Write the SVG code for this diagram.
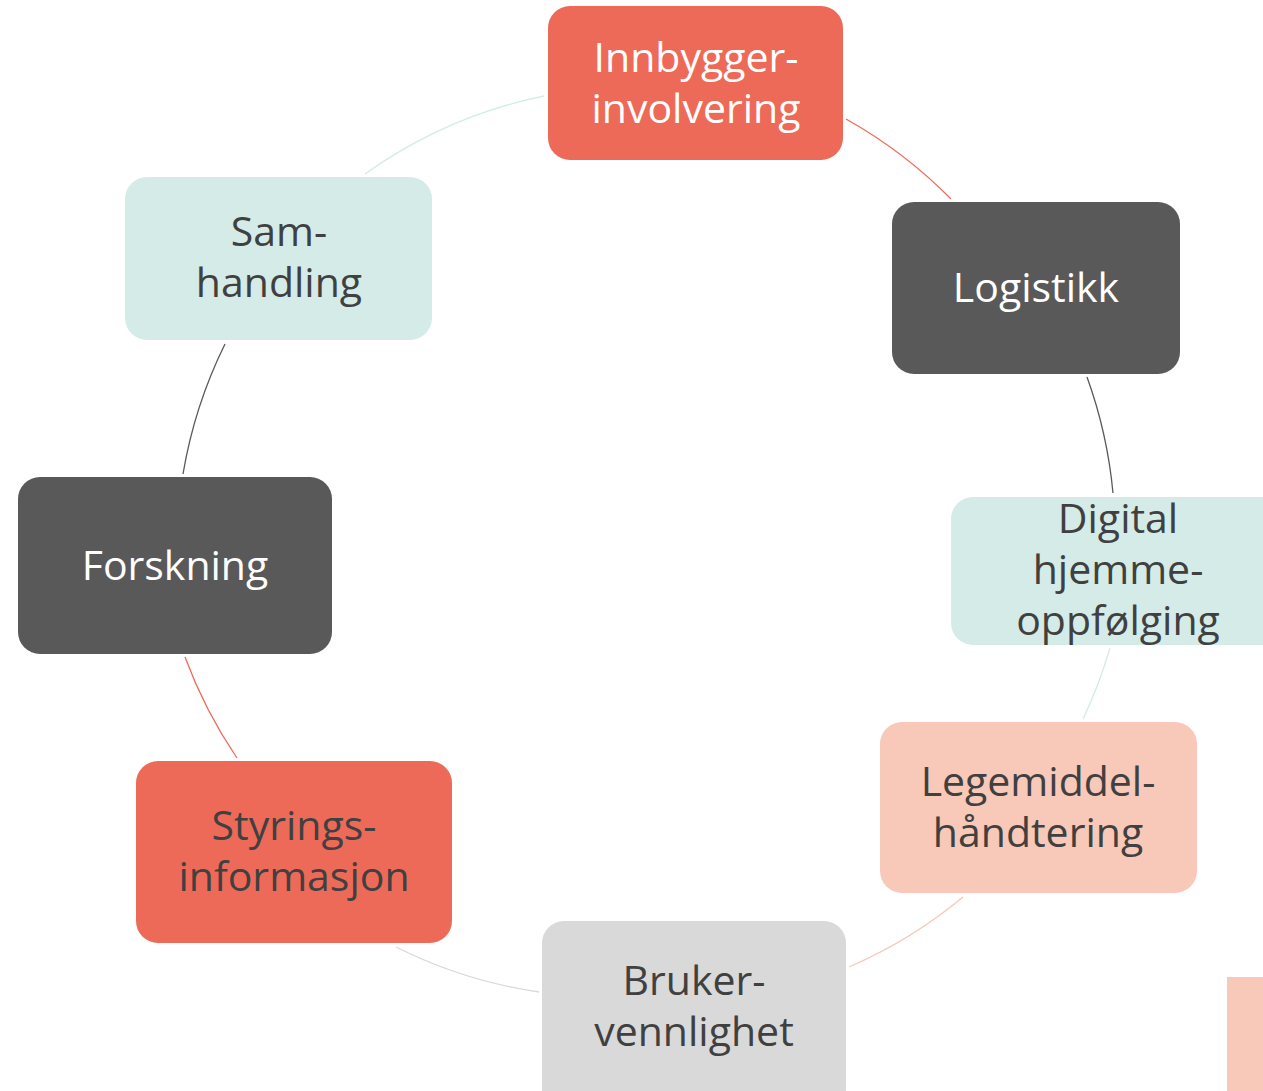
<svg xmlns="http://www.w3.org/2000/svg" width="1263" height="1091" viewBox="0 0 1263 1091">
  <style>
    .lbl { font-family: "Open Sans", "Noto Sans", "Liberation Sans", sans-serif; font-size: 41px; text-anchor: middle; }
    .light { fill: #ffffff; }
    .dark { fill: #404040; }
    .c-red { fill: #EE6A58; }
    .c-gray { fill: #595959; }
    .c-teal { fill: #D5EBE8; }
    .c-peach { fill: #F8C8B8; }
    .c-silver { fill: #D9D9D9; }
    .arc { fill: none; stroke-width: 1.3; }
  </style>

  <rect width="1263" height="1091" fill="#ffffff"/>

  <!-- cycle connectors, each tinted like the box it leaves -->
  <g id="connectors">
    <path class="arc" stroke="#EE6A58" d="M846,119 A470,470 0 0 1 951,199"/>
    <path class="arc" stroke="#595959" d="M1087,377 A470,470 0 0 1 1113,493"/>
    <path class="arc" stroke="#D5EBE8" d="M1110,648 A470,470 0 0 1 1083,719"/>
    <path class="arc" stroke="#F8C8B8" d="M963,897 A470,470 0 0 1 849,967"/>
    <path class="arc" stroke="#D9D9D9" d="M539,992 A470,470 0 0 1 396,947"/>
    <path class="arc" stroke="#EE6A58" d="M237,758 A470,470 0 0 1 185,657"/>
    <path class="arc" stroke="#595959" d="M183,474 A470,470 0 0 1 225,344"/>
    <path class="arc" stroke="#D5EBE8" d="M365,174 A470,470 0 0 1 544,96"/>
  </g>

  <g id="innbyggerinvolvering">
    <rect class="c-red" x="548" y="6" width="295" height="154" rx="22"/>
    <text class="lbl light" x="696" y="72">Innbygger-</text>
    <text class="lbl light" x="696" y="123">involvering</text>
  </g>

  <g id="logistikk">
    <rect class="c-gray" x="892" y="202" width="288" height="172" rx="22"/>
    <text class="lbl light" x="1036" y="302">Logistikk</text>
  </g>

  <g id="digital-hjemmeoppfolging">
    <rect class="c-teal" x="951" y="497" width="340" height="148" rx="22"/>
    <text class="lbl dark" x="1118" y="533">Digital</text>
    <text class="lbl dark" x="1118" y="584">hjemme-</text>
    <text class="lbl dark" x="1118" y="635">oppfølging</text>
  </g>

  <g id="legemiddelhandtering">
    <rect class="c-peach" x="880" y="722" width="317" height="171" rx="22"/>
    <text class="lbl dark" x="1038" y="796">Legemiddel-</text>
    <text class="lbl dark" x="1038" y="847">håndtering</text>
  </g>

  <g id="brukervennlighet">
    <rect class="c-silver" x="542" y="921" width="304" height="190" rx="22"/>
    <text class="lbl dark" x="694" y="995">Bruker-</text>
    <text class="lbl dark" x="694" y="1046">vennlighet</text>
  </g>

  <g id="styringsinformasjon">
    <rect class="c-red" x="136" y="761" width="316" height="182" rx="22"/>
    <text class="lbl dark" x="294" y="840">Styrings-</text>
    <text class="lbl dark" x="294" y="891">informasjon</text>
  </g>

  <g id="forskning">
    <rect class="c-gray" x="18" y="477" width="314" height="177" rx="22"/>
    <text class="lbl light" x="175" y="580">Forskning</text>
  </g>

  <g id="samhandling">
    <rect class="c-teal" x="125" y="177" width="307" height="163" rx="22"/>
    <text class="lbl dark" x="279" y="246">Sam-</text>
    <text class="lbl dark" x="279" y="297">handling</text>
  </g>

  <!-- peach strip at the lower right edge -->
  <rect class="c-peach" x="1227" y="977" width="40" height="120"/>
</svg>
